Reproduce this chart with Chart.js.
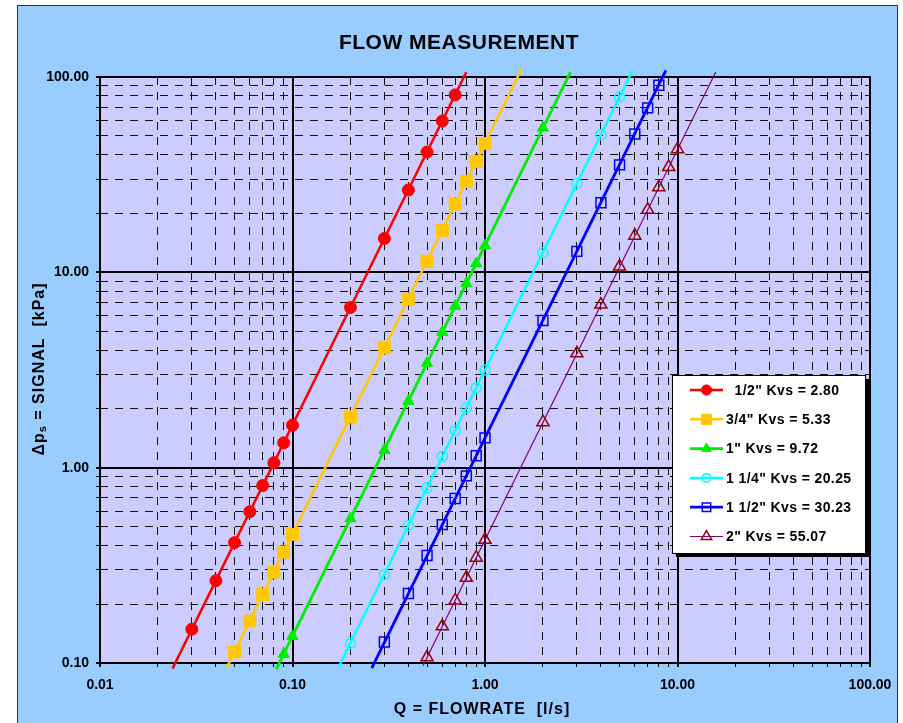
<!DOCTYPE html>
<html>
<head>
<meta charset="utf-8">
<script src="https://cdn.jsdelivr.net/npm/chart.js@4.4.1/dist/chart.umd.min.js"></script>
<style>
html,body{margin:0;padding:0;background:#fff;overflow:hidden}
#wrap{width:903px;height:723px;position:relative}
canvas{display:block}
</style>
</head>
<body>
<div id="wrap"><canvas id="c" width="903" height="723"></canvas></div>
<script>
// ---------- DATA ----------
const chartTitle = 'FLOW MEASUREMENT';
const xTitle = 'Q = FLOWRATE  [l/s]';
const yTitleMain = '\u0394p';
const yTitleSub = 's';
const yTitleRest = ' = SIGNAL  [kPa]';

const seriesLabels = ['  1/2" Kvs = 2.80', '3/4" Kvs = 5.33', '1" Kvs = 9.72', '1 1/4" Kvs = 20.25', '1 1/2" Kvs = 30.23', '2" Kvs = 55.07'];

// marker points: Q [l/s] and Δp [kPa]
const q1  = [0.03, 0.04, 0.05, 0.06, 0.07, 0.08, 0.09, 0.1, 0.2, 0.3, 0.4, 0.5, 0.6, 0.7];
const dp1 = [0.149, 0.264, 0.413, 0.595, 0.81, 1.06, 1.34, 1.65, 6.61, 14.9, 26.4, 41.3, 59.5, 81.0];

const q2  = [0.05, 0.06, 0.07, 0.08, 0.09, 0.1, 0.2, 0.3, 0.4, 0.5, 0.6, 0.7, 0.8, 0.9, 1.0];
const dp2 = [0.114, 0.164, 0.224, 0.292, 0.37, 0.456, 1.82, 4.11, 7.3, 11.4, 16.4, 22.4, 29.2, 37.0, 45.6];

const q3  = [0.09, 0.1, 0.2, 0.3, 0.4, 0.5, 0.6, 0.7, 0.8, 0.9, 1.0, 2.0];
const dp3 = [0.111, 0.137, 0.549, 1.23, 2.19, 3.43, 4.94, 6.72, 8.78, 11.1, 13.7, 54.9];

const q4  = [0.2, 0.3, 0.4, 0.5, 0.6, 0.7, 0.8, 0.9, 1.0, 2.0, 3.0, 4.0, 5.0];
const dp4 = [0.126, 0.284, 0.506, 0.79, 1.14, 1.55, 2.02, 2.56, 3.16, 12.6, 28.4, 50.6, 79.0];

const q5  = [0.3, 0.4, 0.5, 0.6, 0.7, 0.8, 0.9, 1.0, 2.0, 3.0, 4.0, 5.0, 6.0, 7.0, 8.0];
const dp5 = [0.128, 0.227, 0.355, 0.511, 0.695, 0.908, 1.15, 1.42, 5.67, 12.8, 22.7, 35.5, 51.1, 69.5, 90.8];

const q6  = [0.5, 0.6, 0.7, 0.8, 0.9, 1.0, 2.0, 3.0, 4.0, 5.0, 6.0, 7.0, 8.0, 9.0, 10.0];
const dp6 = [0.107, 0.154, 0.209, 0.273, 0.346, 0.427, 1.71, 3.85, 6.84, 10.7, 15.4, 20.9, 27.3, 34.6, 42.7];

// trend line end points (where each line leaves the plot)
const lineQ1 = [0.0238, 0.8],  lineDp1 = [0.0936, 106];
const lineQ2 = [0.0457, 1.55], lineDp2 = [0.0953, 110];
const lineQ3 = [0.0822, 2.78], lineDp3 = [0.0927, 106];
const lineQ4 = [0.174, 5.84],  lineDp4 = [0.0957, 108];
const lineQ5 = [0.258, 8.7],   lineDp5 = [0.0941, 108];
const lineQ6 = [0.476, 15.8],  lineDp6 = [0.0968, 106];

// axis ranges / tick labels
const xDecades = [0.01, 0.1, 1, 10, 100];
const yDecades = [0.1, 1, 10, 100];
const mantissas = [1, 2, 3, 4, 5, 6, 7, 8, 9];

// ---------- STYLES ----------
const lineColors   = ['#FF0000', '#FFC800', '#00EE00', '#00FFFF', '#0000FF', '#800080'];
const markerColors = ['#FF0000', '#FFC800', '#00EE00', '#00FFFF', '#0000FF', '#990000'];
const markerStyles = ['circle', 'rect', 'triangle', 'circle', 'rect', 'triangle'];
const markerFilled = [true, true, true, false, false, false];
const markerRadius = [6, 8.5, 6.5, 5, 7, 7];
const lineWidths   = [2.5, 2.5, 2.8, 2.5, 2.8, 1.2];

const FONT = "'Liberation Sans', Arial, sans-serif";

function buildGrid(decades) {
  const out = [];
  for (let i = 0; i < decades.length - 1; i++) {
    for (const m of mantissas) out.push(+(m * decades[i]).toPrecision(6));
  }
  out.push(decades[decades.length - 1]);
  return out;
}
const xGrid = buildGrid(xDecades);
const yGrid = buildGrid(yDecades);

function isDecade(v) {
  const l = Math.log10(v);
  return Math.abs(l - Math.round(l)) < 1e-6;
}

const qs = [q1, q2, q3, q4, q5, q6];
const dps = [dp1, dp2, dp3, dp4, dp5, dp6];
const lqs = [lineQ1, lineQ2, lineQ3, lineQ4, lineQ5, lineQ6];
const ldps = [lineDp1, lineDp2, lineDp3, lineDp4, lineDp5, lineDp6];

const datasets = [];
for (let i = 0; i < 6; i++) {
  datasets.push({
    label: seriesLabels[i],
    data: qs[i].map((x, k) => ({x, y: dps[i][k]})),
    showLine: false,
    pointStyle: markerStyles[i],
    pointRadius: markerRadius[i],
    pointBackgroundColor: markerFilled[i] ? markerColors[i] : 'rgba(0,0,0,0)',
    pointBorderColor: markerColors[i],
    pointBorderWidth: markerFilled[i] ? 1 : 1.5,
    clip: 10
  });
}
for (let i = 0; i < 6; i++) {
  datasets.push({
    label: seriesLabels[i] + ' line',
    data: lqs[i].map((x, k) => ({x, y: ldps[i][k]})),
    showLine: true,
    pointRadius: 0,
    borderColor: lineColors[i],
    borderWidth: lineWidths[i],
    clip: 10
  });
}

function gridColor(ctx) { return ctx.tick && isDecade(ctx.tick.value) ? '#000000' : '#111111'; }
function gridWidth(ctx) { return ctx.tick && isDecade(ctx.tick.value) ? 2 : 1; }
function gridDash(ctx) { return ctx.tick && !isDecade(ctx.tick.value) ? [8, 7] : []; }
function tickLabel(v) { return isDecade(v) ? Number(v).toFixed(2) : ''; }

const bgPlugin = {
  id: 'bg',
  beforeDraw(chart) {
    const c = chart.ctx, a = chart.chartArea;
    c.save();
    c.fillStyle = '#ffffff';
    c.fillRect(0, 0, chart.width, chart.height);
    c.fillStyle = '#99CCFF';
    c.fillRect(17, 5, 881, 730);
    c.strokeStyle = '#333333';
    c.lineWidth = 1;
    c.strokeRect(17.5, 5.5, 880, 730);
    c.fillStyle = '#CCCCFF';
    c.fillRect(a.left, a.top, a.right - a.left, a.bottom - a.top);
    // title
    c.fillStyle = '#000';
    c.font = 'bold 21px ' + FONT;
    c.letterSpacing = '0.5px';
    c.textAlign = 'center';
    c.textBaseline = 'alphabetic';
    c.fillText(chartTitle, 459, 49);
    c.restore();
  },
  beforeDatasetsDraw(chart) {
    const c = chart.ctx, a = chart.chartArea;
    c.save();
    c.strokeStyle = '#000';
    c.lineWidth = 2;
    c.setLineDash([]);
    c.strokeRect(a.left, a.top, a.right - a.left, a.bottom - a.top);
    c.restore();
  },
  afterDraw(chart) {
    const c = chart.ctx;
    c.save();
    c.fillStyle = '#000';
    // x axis title
    c.font = 'bold 16px ' + FONT;
    c.letterSpacing = '1px';
    c.textAlign = 'center';
    c.textBaseline = 'alphabetic';
    c.fillText(xTitle, 482, 714);
    // y axis title (rotated, with subscript)
    c.translate(44, 369);
    c.rotate(-Math.PI / 2);
    c.font = 'bold 16px ' + FONT;
    const w1 = c.measureText(yTitleMain).width;
    const w3 = c.measureText(yTitleRest).width;
    c.font = 'bold 11px ' + FONT;
    const w2 = c.measureText(yTitleSub).width;
    let x = -(w1 + w2 + w3) / 2;
    c.textAlign = 'left';
    c.font = 'bold 16px ' + FONT;
    c.fillText(yTitleMain, x, 0);
    x += w1;
    c.font = 'bold 11px ' + FONT;
    c.fillText(yTitleSub, x, 2);
    x += w2;
    c.font = 'bold 16px ' + FONT;
    c.fillText(yTitleRest, x, 0);
    c.restore();

    // legend
    c.save();
    const bx = 672, by = 375, bw = 193, bh = 178;
    c.fillStyle = '#000';
    c.fillRect(bx + 4, by + 4, bw, bh);
    c.fillStyle = '#fff';
    c.fillRect(bx, by, bw, bh);
    c.strokeStyle = '#000';
    c.lineWidth = 1;
    c.strokeRect(bx + 0.5, by + 0.5, bw, bh);
    for (let i = 0; i < 6; i++) {
      const y = 390 + i * 29.3;
      c.strokeStyle = lineColors[i];
      c.lineWidth = lineWidths[i];
      c.beginPath();
      c.moveTo(690, y);
      c.lineTo(723, y);
      c.stroke();
      c.fillStyle = markerFilled[i] ? markerColors[i] : 'rgba(0,0,0,0)';
      c.strokeStyle = markerColors[i];
      c.lineWidth = markerFilled[i] ? 1 : 1.5;
      Chart.helpers.drawPoint(c, {pointStyle: markerStyles[i], radius: markerRadius[i] * 0.85, rotation: 0, borderWidth: c.lineWidth}, 706.5, y);
      c.fillStyle = '#000';
      c.font = 'bold 14px ' + FONT;
      c.letterSpacing = '0.4px';
      c.textAlign = 'left';
      c.textBaseline = 'middle';
      c.fillText(seriesLabels[i], 726, y + 1);
    }
    c.restore();
  }
};

const tickFont = {family: FONT, size: 14, weight: 'bold'};

new Chart(document.getElementById('c'), {
  type: 'scatter',
  data: {datasets},
  plugins: [bgPlugin],
  options: {
    responsive: false,
    animation: false,
    devicePixelRatio: 1,
    layout: {padding: {left: 0, right: 33, top: 77, bottom: 0}},
    plugins: {legend: {display: false}, title: {display: false}, tooltip: {enabled: false}},
    scales: {
      x: {
        type: 'logarithmic',
        position: 'bottom',
        min: xDecades[0],
        max: xDecades[xDecades.length - 1],
        afterBuildTicks(s) { s.ticks = xGrid.map(v => ({value: v, major: false})); },
        afterFit(s) { s.height = 60; },
        ticks: {autoSkip: false, maxRotation: 0, minRotation: 0, padding: 10, color: '#000', font: tickFont, callback: tickLabel},
        grid: {color: gridColor, lineWidth: gridWidth, tickLength: 4, tickColor: '#000', drawTicks: true},
        border: {display: false, dash: gridDash}
      },
      y: {
        type: 'logarithmic',
        position: 'left',
        min: yDecades[0],
        max: yDecades[yDecades.length - 1],
        afterBuildTicks(s) { s.ticks = yGrid.map(v => ({value: v, major: false})); },
        afterFit(s) { s.width = 100; },
        ticks: {autoSkip: false, padding: 7, color: '#000', font: tickFont, callback: tickLabel},
        grid: {color: gridColor, lineWidth: gridWidth, tickLength: 4, tickColor: '#000', drawTicks: true},
        border: {display: false, dash: gridDash}
      }
    }
  }
});
</script>
</body>
</html>
